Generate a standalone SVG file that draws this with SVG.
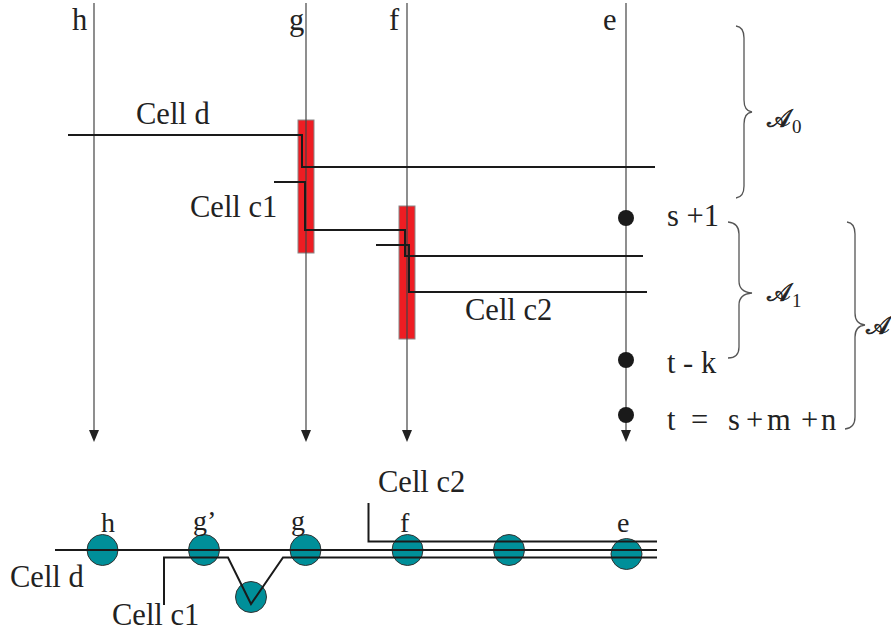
<svg xmlns="http://www.w3.org/2000/svg" width="891" height="633" viewBox="0 0 891 633">
<style>
.t{font-family:"Liberation Serif","Times New Roman","DejaVu Serif",serif;fill:#222;font-size:30.5px}
.lbl{font-size:28px}
.axis{stroke:#444;stroke-width:1.2;fill:none}
.cell{stroke:#1a1a1a;stroke-width:2;fill:none}
.brace{stroke:#555;stroke-width:1.3;fill:none}
.bar{fill:#ee1d23;stroke:#888;stroke-width:1}
.node{fill:#008f99;stroke:#333;stroke-width:1}
.dot{fill:#1a1a1a}
.cal{font-family:"DejaVu Sans",sans-serif;font-size:25px;fill:#222;stroke:#222;stroke-width:0.7}
.sub{font-size:19px}
</style>
<defs>
<marker id="arr" markerWidth="12" markerHeight="10" refX="0" refY="5" orient="auto" markerUnits="userSpaceOnUse" viewBox="0 0 12 10">
<path d="M0,0 L12,5 L0,10 Z" fill="#222"/>
</marker>
</defs>

<g id="bars">
<rect id="bar-g" class="bar" x="298" y="120" width="16" height="133"/>
<rect id="bar-f" class="bar" x="399" y="206" width="16" height="133"/>
</g>

<g id="axes">
<g id="axis-h"><line class="axis" x1="94" y1="3" x2="94" y2="430" marker-end="url(#arr)"/><text class="t" x="72" y="30">h</text></g>
<g id="axis-g"><line class="axis" x1="306" y1="3" x2="306" y2="430" marker-end="url(#arr)"/><text class="t" x="289" y="30">g</text></g>
<g id="axis-f"><line class="axis" x1="407" y1="3" x2="407" y2="430" marker-end="url(#arr)"/><text class="t" x="389" y="30">f</text></g>
<g id="axis-e"><line class="axis" x1="626" y1="3" x2="626" y2="430" marker-end="url(#arr)"/><text class="t" x="603" y="30">e</text></g>
</g>

<g id="connectors">
<path id="cell-d" class="cell" d="M68,135 H302 V167 H655"/>
<path id="cell-c1" class="cell" d="M274,182 H305 V230 H405 V256 H643"/>
<path id="cell-c2" class="cell" d="M376,245 H409 V292 H647"/>
</g>

<g id="labels-top">
<text class="t" x="136" y="124">Cell d</text>
<text class="t" x="190" y="217">Cell c1</text>
<text class="t" x="465" y="320">Cell c2</text>
</g>

<g id="time-points">
<circle class="dot" cx="626" cy="218" r="8"/>
<circle class="dot" cx="626" cy="360" r="8"/>
<circle class="dot" cx="626" cy="415" r="8"/>
<text class="t" x="667" y="226">s +1</text>
<text class="t" x="667" y="373">t - k</text>
<text class="t" y="430"><tspan x="667">t</tspan> <tspan x="691">=</tspan> <tspan x="728">s</tspan> <tspan x="746">+</tspan> <tspan x="767">m</tspan> <tspan x="801">+</tspan> <tspan x="821">n</tspan></text>
</g>

<g id="braces">
<g id="brace-A0">
<path class="brace" d="M736,26 Q744,27 744,38 L744,100 Q744,111 752,112 Q744,113 744,124 L744,186 Q744,197 736,198"/>
<text class="cal" x="767" y="127">𝒜</text><text class="t sub" x="792" y="133">0</text>
</g>
<g id="brace-A1">
<path class="brace" d="M728,222 Q739,223 739,234 L739,281 Q739,292 752,293 Q739,294 739,305 L739,347 Q739,358 728,358"/>
<text class="cal" x="767" y="301">𝒜</text><text class="t sub" x="792" y="307">1</text>
</g>
<g id="brace-A">
<path class="brace" d="M847,222 Q855,223 855,234 L855,313 Q855,324 865,325 Q855,326 855,337 L855,417 Q855,428 845,429"/>
<text class="cal" x="866" y="334">𝒜</text>
</g>
</g>

<g id="bottom-nodes">
<circle id="n-h" class="node" cx="102.5" cy="550" r="15.5"/>
<circle id="n-g1" class="node" cx="204" cy="550" r="15.5"/>
<circle id="n-v" class="node" cx="251" cy="597" r="15.5"/>
<circle id="n-g" class="node" cx="305.5" cy="550" r="15.5"/>
<circle id="n-f" class="node" cx="407.5" cy="550" r="15.5"/>
<circle id="n-m" class="node" cx="509" cy="550" r="15.5"/>
<circle id="n-e" class="node" cx="626.5" cy="554" r="15.5"/>
</g>

<g id="bottom-connectors">
<path class="cell" d="M55,550 H657"/>
<path class="cell" d="M164,605 V557.5 H228 L251,604 L283,557.5 H657"/>
<path class="cell" d="M368.5,503 V541.5 H657"/>
</g>

<g id="bottom-labels">
<text class="t lbl" x="101" y="532">h</text>
<text class="t lbl" x="193" y="530">g’</text>
<text class="t lbl" x="291" y="530">g</text>
<text class="t lbl" x="400" y="532">f</text>
<text class="t lbl" x="617" y="532">e</text>
<text class="t" x="10" y="587">Cell d</text>
<text class="t" x="112" y="625">Cell c1</text>
<text class="t" x="378" y="492">Cell c2</text>
</g>
</svg>
